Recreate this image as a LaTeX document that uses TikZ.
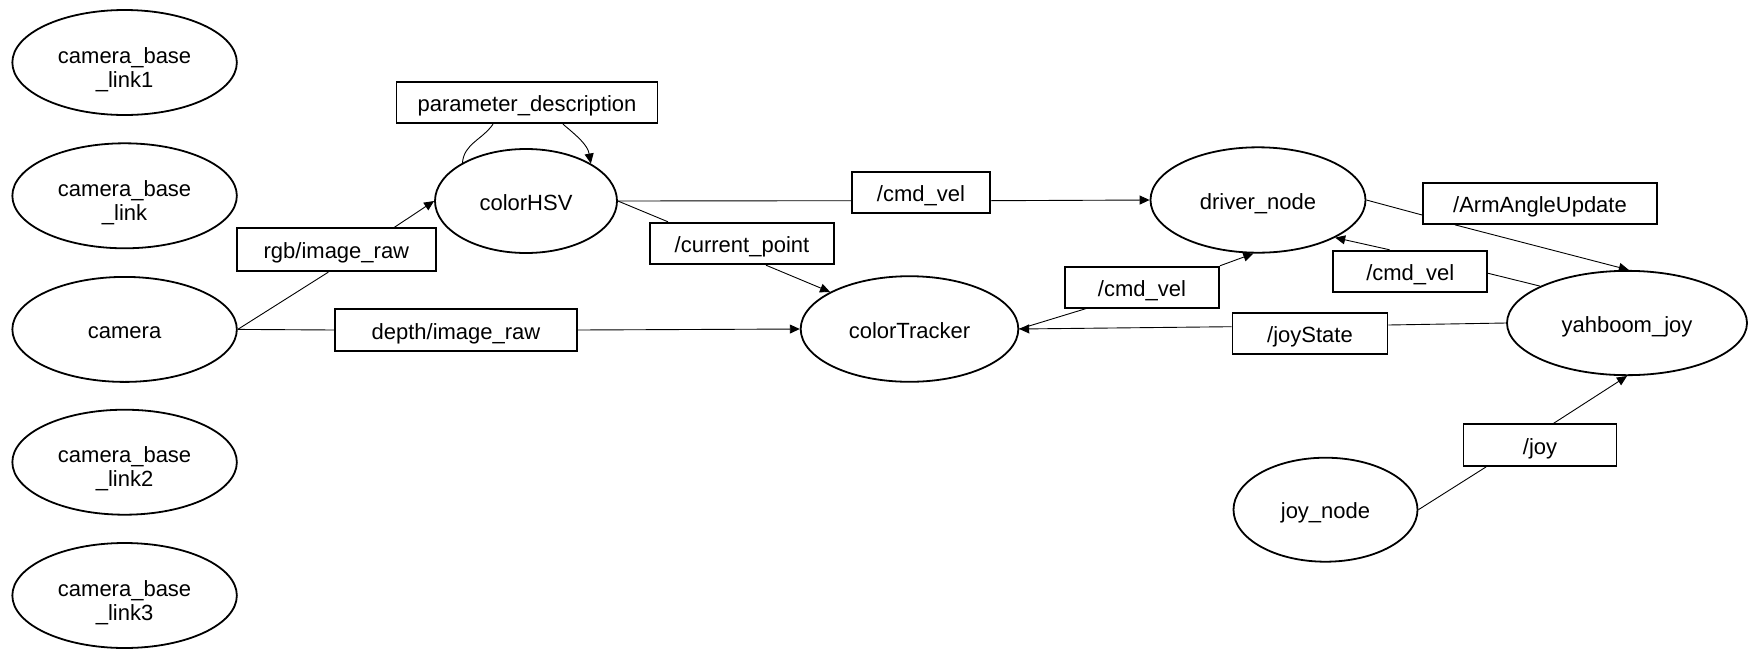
\documentclass[tikz,border=0pt]{standalone}
\usepackage{fontspec}
\setmainfont{Liberation Sans}
\usetikzlibrary{shapes.geometric,arrows.meta}
\newcommand\mystrut{\rule[-5pt]{0pt}{28.5pt}}
\newcommand\mytallstrut{\rule[-5pt]{0pt}{35.5pt}}
\tikzset{
  rosnode/.style={draw, ellipse, line width=1.8pt, inner sep=0pt, align=center},
  topic/.style={draw, rectangle, line width=1.8pt, inner sep=0pt},
  conn/.style={line width=0.9pt},
  feed/.style={line width=0.9pt, -{Triangle[length=10pt,width=9pt]}},
  every node/.append style={execute at begin node=\mystrut, execute at end node=\mystrut},
}
\begin{document}
\begin{tikzpicture}[x=1pt,y=-1pt, font=\fontsize{22}{24}\selectfont]
\useasboundingbox (0,0) rectangle (1761,659);
% ellipses
\node[rosnode, minimum width=224.5pt, minimum height=105pt] (l1) at (124.6,62.5) {\mytallstrut camera\_base\\\_link1};
\node[rosnode, minimum width=224.5pt, minimum height=105pt] (l0) at (124.6,195.8) {\mytallstrut camera\_base\\\_link};
\node[rosnode, minimum width=224.5pt, minimum height=105pt] (cam) at (124.6,329.4) {camera};
\node[rosnode, minimum width=224.5pt, minimum height=105pt] (l2) at (124.6,462.2) {\mytallstrut camera\_base\\\_link2};
\node[rosnode, minimum width=224.5pt, minimum height=105pt] (l3) at (124.6,595.5) {\mytallstrut camera\_base\\\_link3};
\node[rosnode, minimum width=182pt, minimum height=104pt] (hsv) at (526,201) {colorHSV};
\node[rosnode, minimum width=217.6pt, minimum height=105.6pt] (tracker) at (909.5,329) {colorTracker};
\node[rosnode, minimum width=215pt, minimum height=105.4pt] (driver) at (1258,200) {driver\_node};
\node[rosnode, minimum width=240pt, minimum height=104.3pt] (yahboom) at (1627,323) {yahboom\_joy};
\node[rosnode, minimum width=184pt, minimum height=104pt] (joynode) at (1325.5,509.7) {joy\_node};
% topics
\node[topic, minimum width=261pt, minimum height=41.6pt] (param) at (527,102.5) {parameter\_description};
\node[topic, minimum width=199pt, minimum height=43pt] (rgb) at (336.4,249.7) {rgb/image\_raw};
\node[topic, minimum width=242pt, minimum height=42pt] (depth) at (456,330) {depth/image\_raw};
\node[topic, minimum width=184.5pt, minimum height=41.6pt] (curpt) at (742,243.5) {/current\_point};
\node[topic, minimum width=138pt, minimum height=41pt] (cmd1) at (921,192.2) {/cmd\_vel};
\node[topic, minimum width=154pt, minimum height=41pt] (cmd2) at (1142,287.2) {/cmd\_vel};
\node[topic, minimum width=234pt, minimum height=41.3pt] (arm) at (1540,203.3) {/ArmAngleUpdate};
\node[topic, minimum width=154pt, minimum height=41.3pt] (cmd3) at (1410.3,271.3) {/cmd\_vel};
\node[topic, minimum width=155pt, minimum height=41.3pt] (joystate) at (1310,333.3) {/joyState};
\node[topic, minimum width=153pt, minimum height=41.7pt] (joy) at (1540,445.2) {/joy};
% connectors
\draw[conn] (cam.east) -- ([xshift=-8pt]rgb.south);
\draw[feed] ([xshift=58pt]rgb.north) -- (hsv.west);
\draw[conn] (hsv.149) to[out=85,in=235] ([xshift=-34pt]param.south);
\draw[feed] ([xshift=36pt]param.south) to[out=-40,in=100] (hsv.30);
\draw[conn] (hsv.east) -- ([yshift=-8.5pt]cmd1.west);
\draw[feed] ([yshift=-8.5pt]cmd1.east) -- (driver.west);
\draw[conn] (hsv.east) -- ([xshift=-74pt]curpt.north);
\draw[feed] ([xshift=24pt]curpt.south) -- (tracker.155);
\draw[conn] (cam.east) -- (depth.west);
\draw[feed] (depth.east) -- (tracker.west);
\draw[conn] (tracker.east) -- ([xshift=-56pt]cmd2.south);
\draw[feed] (cmd2.north east) -- (driver.265);
\draw[conn] (driver.east) -- ([yshift=-11.7pt]arm.west);
\draw[feed] ([xshift=-85pt]arm.south) -- (yahboom.88);
\draw[conn] (yahboom.157) -- ([yshift=-2pt]cmd3.east);
\draw[feed] ([xshift=-20.8pt]cmd3.north) -- (driver.-26);
\draw[conn] (yahboom.west) -- ([yshift=8.3pt]joystate.east);
\draw[feed] ([yshift=6.6pt]joystate.west) -- (tracker.east);
\draw[conn] (joynode.east) -- ([xshift=-54pt]joy.south);
\draw[feed] ([xshift=13.4pt]joy.north) -- (yahboom.270);
\end{tikzpicture}
\end{document}
